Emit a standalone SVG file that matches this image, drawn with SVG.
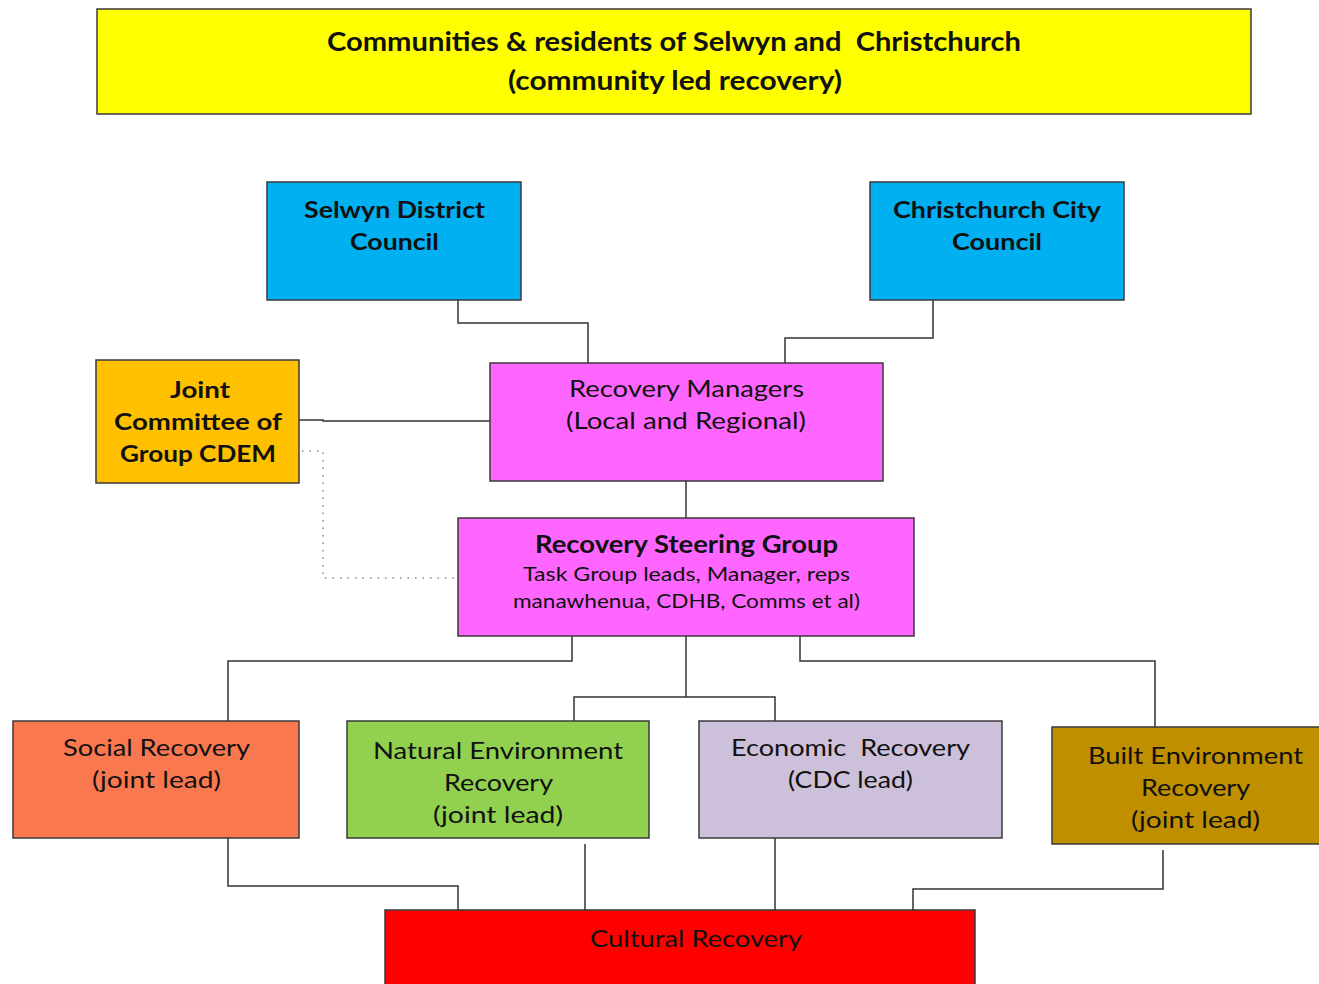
<svg xmlns="http://www.w3.org/2000/svg" width="1319" height="984" viewBox="0 0 1319 984">
<style>
.box{stroke:#3a3a3a;stroke-width:1.5}
.t{font-family:Lato,"Open Sans","Liberation Sans",sans-serif;font-size:23px;fill:#111;text-anchor:middle;white-space:pre}
.b{font-weight:bold}
.ln{fill:none;stroke:#333;stroke-width:1.5}
.dot{fill:none;stroke:#888;stroke-width:1.5;stroke-dasharray:1.5 6}
</style>
<rect width="1319" height="984" fill="#fff"/>
<g id="connectors">
<polyline class="ln" points="458,300 458,323 588,323 588,363"/>
<polyline class="ln" points="933,300 933,338 785,338 785,363"/>
<polyline class="ln" points="299,420 323,420 323,421 490,421"/>
<polyline class="dot" points="302,451 323,451 323,578 456,578"/>
<polyline class="ln" points="686,481 686,518"/>
<polyline class="ln" points="572,636 572,661 228,661 228,721"/>
<polyline class="ln" points="574,721 574,697 775,697 775,721"/>
<polyline class="ln" points="686,636 686,697"/>
<polyline class="ln" points="800,636 800,661 1155,661 1155,727"/>
<polyline class="ln" points="228,838 228,886 458,886 458,910"/>
<polyline class="ln" points="585,844 585,910"/>
<polyline class="ln" points="775,838 775,910"/>
<polyline class="ln" points="1163,850 1163,889 913,889 913,910"/>
</g>
<g id="communities">
<rect class="box" x="97" y="9" width="1154" height="105" fill="#FFFF00"/>
<text class="t b" style="font-size:27px" x="674" y="51" textLength="694" lengthAdjust="spacingAndGlyphs" xml:space="preserve">Communities &amp; residents of Selwyn and  Christchurch</text>
<text class="t b" style="font-size:27px" x="675" y="90" textLength="334" lengthAdjust="spacingAndGlyphs">(community led recovery)</text>
</g>
<g id="selwyn">
<rect class="box" x="267" y="182" width="254" height="118" fill="#00B0F0"/>
<text class="t b" x="394.5" y="218" textLength="181" lengthAdjust="spacingAndGlyphs">Selwyn District</text>
<text class="t b" x="394.5" y="250" textLength="89" lengthAdjust="spacingAndGlyphs">Council</text>
</g>
<g id="christchurch">
<rect class="box" x="870" y="182" width="254" height="118" fill="#00B0F0"/>
<text class="t b" x="997" y="218" textLength="208" lengthAdjust="spacingAndGlyphs">Christchurch City</text>
<text class="t b" x="997" y="250" textLength="90" lengthAdjust="spacingAndGlyphs">Council</text>
</g>
<g id="joint">
<rect class="box" x="96" y="360" width="203" height="123" fill="#FFC000"/>
<text class="t b" x="200" y="398" textLength="60" lengthAdjust="spacingAndGlyphs">Joint</text>
<text class="t b" x="198" y="430" textLength="168" lengthAdjust="spacingAndGlyphs">Committee of</text>
<text class="t b" x="198" y="462" textLength="156" lengthAdjust="spacingAndGlyphs">Group CDEM</text>
</g>
<g id="managers">
<rect class="box" x="490" y="363" width="393" height="118" fill="#FF66FF"/>
<text class="t" x="686.5" y="397" textLength="235" lengthAdjust="spacingAndGlyphs">Recovery Managers</text>
<text class="t" x="686" y="429" textLength="240" lengthAdjust="spacingAndGlyphs">(Local and Regional)</text>
</g>
<g id="steering">
<rect class="box" x="458" y="518" width="456" height="118" fill="#FF66FF"/>
<text class="t b" style="font-size:24px" x="686.5" y="553" textLength="303" lengthAdjust="spacingAndGlyphs">Recovery Steering Group</text>
<text class="t" style="font-size:20px" x="686.5" y="581" textLength="327" lengthAdjust="spacingAndGlyphs">Task Group leads, Manager, reps</text>
<text class="t" style="font-size:20px" x="686.5" y="608" textLength="347" lengthAdjust="spacingAndGlyphs">manawhenua, CDHB, Comms et al)</text>
</g>
<g id="social">
<rect class="box" x="13" y="721" width="286" height="117" fill="#FA7850"/>
<text class="t" x="156.5" y="756" textLength="187" lengthAdjust="spacingAndGlyphs">Social Recovery</text>
<text class="t" x="156.5" y="788" textLength="129" lengthAdjust="spacingAndGlyphs">(joint lead)</text>
</g>
<g id="natural">
<rect class="box" x="347" y="721" width="302" height="117" fill="#92D050"/>
<text class="t" x="498" y="759" textLength="250" lengthAdjust="spacingAndGlyphs">Natural Environment</text>
<text class="t" x="498.5" y="791" textLength="109" lengthAdjust="spacingAndGlyphs">Recovery</text>
<text class="t" x="498" y="823" textLength="130" lengthAdjust="spacingAndGlyphs">(joint lead)</text>
</g>
<g id="economic">
<rect class="box" x="699" y="721" width="303" height="117" fill="#CCC0DA"/>
<text class="t" x="850.5" y="756" textLength="239" lengthAdjust="spacingAndGlyphs" xml:space="preserve">Economic  Recovery</text>
<text class="t" x="850.5" y="788" textLength="125" lengthAdjust="spacingAndGlyphs">(CDC lead)</text>
</g>
<g id="built">
<rect class="box" x="1052" y="727" width="275" height="117" fill="#BF8F00"/>
<text class="t" x="1195.5" y="764" textLength="215" lengthAdjust="spacingAndGlyphs">Built Environment</text>
<text class="t" x="1195.5" y="796" textLength="109" lengthAdjust="spacingAndGlyphs">Recovery</text>
<text class="t" x="1195.5" y="828" textLength="129" lengthAdjust="spacingAndGlyphs">(joint lead)</text>
</g>
<g id="cultural">
<rect class="box" x="385" y="910" width="590" height="90" fill="#FF0000"/>
<text class="t" x="696" y="947" textLength="212" lengthAdjust="spacingAndGlyphs">Cultural Recovery</text>
</g>
</svg>
